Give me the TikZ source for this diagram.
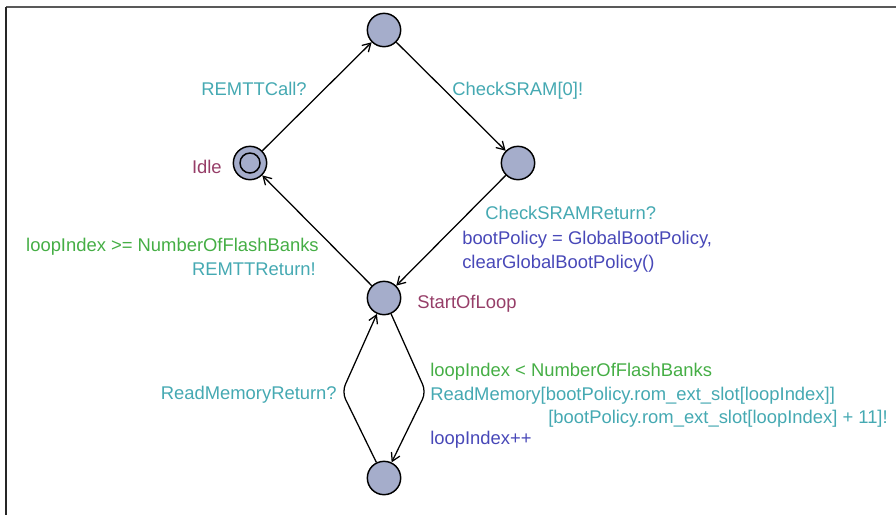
\documentclass[tikz,border=0pt]{standalone}
\usepackage{fontspec}
\setmainfont{Liberation Sans}
\usetikzlibrary{arrows.meta}

\definecolor{locfill}{HTML}{A5ADCB}
\definecolor{chan}{HTML}{45A9B2}
\definecolor{guard}{HTML}{45AE45}
\definecolor{upd}{HTML}{4848B8}
\definecolor{locname}{HTML}{963E68}

\tikzset{
  loc/.style={circle, draw, line width=1.1pt, fill=locfill, minimum size=25pt, inner sep=0pt},
  edge/.style={line width=0.95pt, -{Straight Barb[length=6pt,width=7pt]}},
  lbl/.style={font=\fontsize{13.8}{17}\selectfont, inner sep=0pt},
}

\begin{document}
\begin{tikzpicture}[x=0.75pt, y=-0.75pt]
  \useasboundingbox (0,0) rectangle (896,515);
  % frame
  \draw[line width=1.2pt, black!65] (6,7) -- (896,7);
  \draw[line width=1.4pt, black!85] (6,7) -- (6,515);

  % locations
  \node[loc] (top)    at (384,30)  {};
  \node[loc] (idle)   at (250,163) {};
  \node[loc] (check)  at (518,163) {};
  \node[loc] (loop)   at (384,298) {};
  \node[loc] (bottom) at (384,478) {};
  \draw[line width=1.1pt] (idle.center) circle[radius=10];

  \coordinate (lbend) at (342,392);
  \coordinate (rbend) at (426,392);

  % edges
  \draw[edge] (idle) -- (top);
  \draw[edge] (top) -- (check);
  \draw[edge] (check) -- (loop);
  \draw[edge] (loop) -- (idle);
  \draw[edge, rounded corners=6pt] (loop) -- (rbend) -- (bottom);
  \draw[edge, rounded corners=6pt] (bottom) -- (lbend) -- (loop);

  % location names
  \node[lbl, locname, anchor=base east] (idlename) at (222,173) {Idle};
  \node[lbl, locname, anchor=base west] (loopname) at (417,308) {StartOfLoop};

  % edge labels
  \node[lbl, chan, anchor=base east] (call) at (307,95) {REMTTCall?};
  \node[lbl, chan, anchor=base west] (sram) at (452,95) {CheckSRAM[0]!};
  \node[lbl, chan, anchor=base west] (sramret) at (485,219) {CheckSRAMReturn?};
  \node[lbl, upd, anchor=base west] (upd1) at (462,244) {bootPolicy = GlobalBootPolicy,};
  \node[lbl, upd, anchor=base west] (upd2) at (462,268) {clearGlobalBootPolicy()};
  \node[lbl, guard, anchor=base east] (done) at (319,251) {loopIndex >= NumberOfFlashBanks};
  \node[lbl, chan, anchor=base east] (ret) at (316,275) {REMTTReturn!};
  \node[lbl, guard, anchor=base west] (more) at (430,376) {loopIndex < NumberOfFlashBanks};
  \node[lbl, chan, anchor=base west] (read1) at (430,400) {ReadMemory[bootPolicy.rom\_ext\_slot[loopIndex]]};
  \node[lbl, chan, anchor=base east] (read2) at (888,423) {[bootPolicy.rom\_ext\_slot[loopIndex] + 11]!};
  \node[lbl, upd, anchor=base west] (inc) at (430,444) {loopIndex++};
  \node[lbl, chan, anchor=base east] (readret) at (337,399) {ReadMemoryReturn?};
\end{tikzpicture}
\end{document}
